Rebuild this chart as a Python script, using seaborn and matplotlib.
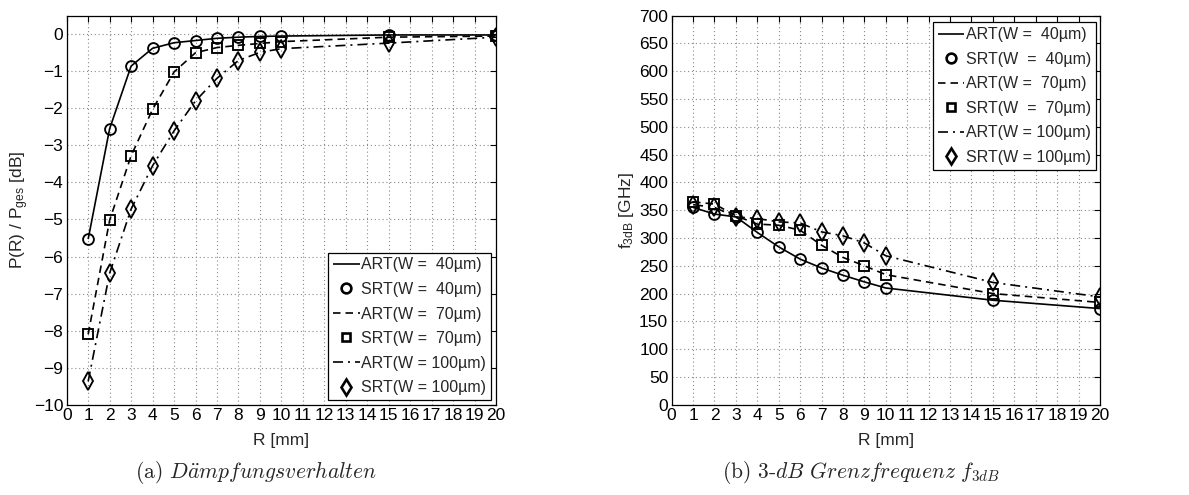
import numpy as np
import pandas as pd
import matplotlib
matplotlib.use("Agg")
import matplotlib.pyplot as plt
from matplotlib.lines import Line2D
import seaborn as sns

# Radius values [mm]
R = [1, 2, 3, 4, 5, 6, 7, 8, 9, 10, 15, 20]

# (a) attenuation P(R)/P_ges [dB]
att_art_40 = [-5.53, -2.55, -0.86, -0.38, -0.23, -0.17, -0.11, -0.08, -0.06, -0.05, -0.02, -0.02]
att_srt_40 = [-5.53, -2.55, -0.86, -0.38, -0.23, -0.17, -0.11, -0.08, -0.06, -0.05, -0.02, -0.02]
att_art_70 = [-8.10, -5.02, -3.28, -2.03, -1.02, -0.50, -0.36, -0.30, -0.25, -0.20, -0.08, -0.05]
att_srt_70 = [-8.10, -5.02, -3.28, -2.03, -1.02, -0.50, -0.36, -0.30, -0.25, -0.20, -0.08, -0.05]
att_art_100 = [-9.37, -6.45, -4.72, -3.55, -2.61, -1.80, -1.19, -0.71, -0.49, -0.39, -0.24, -0.08]
att_srt_100 = [-9.37, -6.45, -4.72, -3.55, -2.61, -1.80, -1.19, -0.71, -0.49, -0.39, -0.24, -0.08]

# (b) 3-dB cut-off frequency [GHz]
f3_art_40 = [355, 343, 338, 310, 284, 262, 246, 233, 221, 210, 188, 173]
f3_srt_40 = [355, 343, 338, 310, 284, 262, 246, 233, 221, 210, 188, 173]
f3_art_70 = [365, 361, 340, 325, 323, 314, 287, 265, 250, 234, 200, 184]
f3_srt_70 = [365, 361, 340, 325, 323, 314, 287, 265, 250, 234, 200, 184]
f3_art_100 = [360, 355, 338, 335, 329, 327, 311, 304, 291, 268, 220, 194]
f3_srt_100 = [360, 355, 338, 335, 329, 327, 311, 304, 291, 268, 220, 194]

labels_a = ["ART(W =  40\u00b5m)", "SRT(W =  40\u00b5m)", "ART(W =  70\u00b5m)",
            "SRT(W =  70\u00b5m)", "ART(W = 100\u00b5m)", "SRT(W = 100\u00b5m)"]
labels_b = ["ART(W =  40\u00b5m)", "SRT(W  =  40\u00b5m)", "ART(W =  70\u00b5m)",
            "SRT(W  =  70\u00b5m)", "ART(W = 100\u00b5m)", "SRT(W = 100\u00b5m)"]

sns.set_style("white")
plt.rcParams["font.family"] = ["Liberation Sans", "DejaVu Sans"]
plt.rcParams["mathtext.fontset"] = "custom"
plt.rcParams["mathtext.rm"] = "Liberation Sans"
plt.rcParams["mathtext.it"] = "Liberation Sans:italic"

FS = 12.5
LFS = 11.5
LW = 1.2
MEW = 1.35
styles = [(0, ()), (0, (4.5, 3)), (0, (6, 3, 1.2, 3))]
markers = ["o", "s", "d"]
msizes = [7.8, 6.6, 8.8]

fig = plt.figure(figsize=(11.89, 4.95), dpi=100)
ax1 = fig.add_axes([0.0561, 0.1824, 0.3611, 0.7859])
ax2 = fig.add_axes([0.5649, 0.1824, 0.3602, 0.7859])


def draw(ax, arts, srts):
    for i, (a, s) in enumerate(zip(arts, srts)):
        df_a = pd.DataFrame({"R": R, "v": a})
        df_s = pd.DataFrame({"R": R, "v": s})
        sns.lineplot(data=df_a, x="R", y="v", ax=ax, color="black", lw=LW,
                     linestyle=styles[i], zorder=2)
        sns.lineplot(data=df_s, x="R", y="v", ax=ax, color="black", lw=0,
                     marker=markers[i], markersize=msizes[i],
                     markerfacecolor="none", markeredgecolor="black",
                     markeredgewidth=MEW, zorder=3)


def style_axes(ax, ymin, ymax):
    ax.set_xlim(0, 20)
    ax.set_ylim(ymin, ymax)
    ax.set_xticks(np.arange(0, 21, 1))
    ax.grid(True, color="#8a8a8a", linestyle=(0, (1, 2.5)), linewidth=0.8)
    ax.tick_params(direction="in", top=True, right=True, length=4, width=0.8,
                   labelsize=FS, pad=2.5, colors="black")
    for sp in ax.spines.values():
        sp.set_color("black")
        sp.set_linewidth(0.9)
    ax.set_xlabel("R [mm]", fontsize=FS)
    ax.xaxis.set_label_coords(0.5, -0.072)


def legend(ax, labels, loc, anchor):
    hs = []
    for i in range(3):
        hs.append(Line2D([], [], color="black", lw=LW, linestyle=styles[i]))
        hs.append(Line2D([], [], color="black", lw=0, marker=markers[i],
                         markersize=msizes[i] * 0.9,
                         markerfacecolor="none", markeredgecolor="black",
                         markeredgewidth=MEW * 1.4))
    leg = ax.legend(hs, labels, loc=loc, bbox_to_anchor=anchor, fontsize=LFS,
                    frameon=True, fancybox=False, handlelength=1.65,
                    handletextpad=0.1, borderpad=0.3, labelspacing=0.6,
                    borderaxespad=0, framealpha=1)
    leg.get_frame().set_edgecolor("black")
    leg.get_frame().set_linewidth(0.9)


draw(ax1, [att_art_40, att_art_70, att_art_100], [att_srt_40, att_srt_70, att_srt_100])
style_axes(ax1, -10, 0.5)
ax1.set_yticks(np.arange(-10, 1, 1))
ax1.set_yticklabels([f"\u2212{abs(v)}" if v < 0 else "0" for v in range(-10, 1)])
ax1.set_ylabel("P(R) / P$_{\\mathregular{ges}}$ [dB]", fontsize=FS, labelpad=2)
legend(ax1, labels_a, "lower right", (0.988, 0.012))

draw(ax2, [f3_art_40, f3_art_70, f3_art_100], [f3_srt_40, f3_srt_70, f3_srt_100])
style_axes(ax2, 0, 700)
ax2.set_yticks(np.arange(0, 701, 50))
ax2.set_ylabel("f$_{\\mathregular{3dB}}$ [GHz]", fontsize=FS, labelpad=2)
legend(ax2, labels_b, "upper right", (0.99, 0.983))

# sub-figure captions
fig.text(0.2153, 0.046, r"(a) $D\ddot{a}mpfungsverhalten$", fontsize=15.5,
         family="cmr10", math_fontfamily="cm", ha="center", va="center")
fig.text(0.7241, 0.046, r"(b) $3\text{-}dB\ Grenzfrequenz\ f_{3dB}$", fontsize=15.5,
         family="cmr10", math_fontfamily="cm", ha="center", va="center")

fig.savefig("out.png", dpi=100)
